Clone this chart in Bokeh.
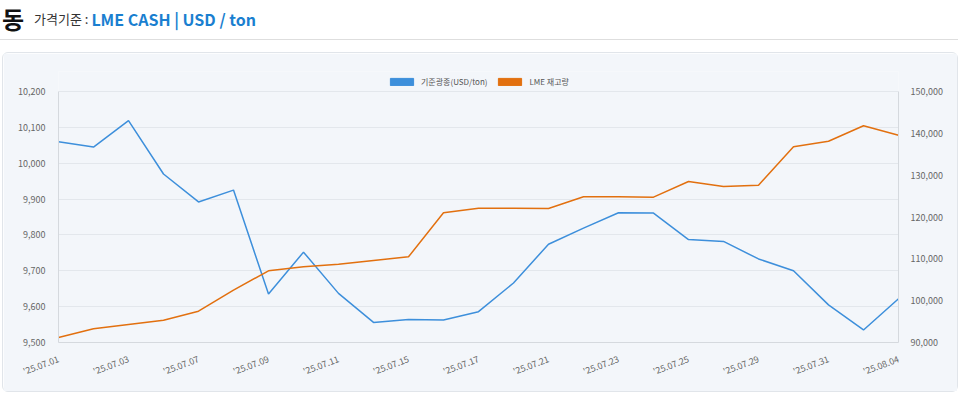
from bokeh.plotting import figure
from bokeh.models import (Range1d, LinearAxis, FixedTicker, NumeralTickFormatter,
                          Legend, LegendItem, ColumnDataSource, Div)
from bokeh.layouts import column
from bokeh.embed import file_html
from bokeh.resources import INLINE

dates = ["'25.07.01", "'25.07.02", "'25.07.03", "'25.07.04", "'25.07.07", "'25.07.08",
         "'25.07.09", "'25.07.10", "'25.07.11", "'25.07.14", "'25.07.15", "'25.07.16",
         "'25.07.17", "'25.07.18", "'25.07.21", "'25.07.22", "'25.07.23", "'25.07.24",
         "'25.07.25", "'25.07.28", "'25.07.29", "'25.07.30", "'25.07.31", "'25.08.01",
         "'25.08.04"]
price = [10060, 10045, 10119, 9970, 9892, 9925, 9635, 9752, 9637, 9556, 9564, 9563,
         9586, 9666, 9774, 9819, 9862, 9861, 9787, 9782, 9733, 9700, 9605, 9535, 9622]
stock = [91200, 93270, 94300, 95330, 97480, 102500, 107140, 108100, 108720, 109600,
         110480, 121000, 122100, 122100, 122030, 124830, 124830, 124740, 128490, 127290,
         127600, 136780, 138120, 141800, 139560]
price_ticks = [9500, 9600, 9700, 9800, 9900, 10000, 10100, 10200]
stock_ticks = [90000, 100000, 110000, 120000, 130000, 140000, 150000]
series_names = ["기준광종(USD/ton)", "LME 재고량"]

BLUE = "#3d8fdb"
ORANGE = "#e2700f"
BG = "#f3f6fa"
FONT = "Noto Sans CJK KR"
NAN = float("nan")

# axis spans; the frame is extended 20px above the top tick to hold the legend
P_LO, P_HI = price_ticks[0], price_ticks[-1]
S_LO, S_HI = stock_ticks[0], stock_ticks[-1]
AXIS_PX, EXTRA_PX = 251, 20
p_end = P_HI + (P_HI - P_LO) * EXTRA_PX / AXIS_PX
s_end = S_HI + (S_HI - S_LO) * EXTRA_PX / AXIS_PX

idx = list(range(len(dates)))
src = ColumnDataSource(dict(x=idx, price=price, stock=stock))

header = Div(
    text=('<div style="width:958px;height:40px;border-bottom:1px solid #dedede;box-sizing:border-box;'
          'padding-left:2px;display:flex;align-items:center;white-space:nowrap;'
          'font-family:\'Noto Sans CJK KR\';">'
          '<span style="font-weight:bold;font-size:24px;color:#111;">동</span>'
          '<span style="margin-left:10px;font-size:13px;color:#333;">가격기준 :&nbsp;</span>'
          '<span style="font-size:16px;font-weight:bold;color:#1a7fd0;">LME CASH | USD / ton</span>'
          '</div>'),
    width=958, height=52, margin=0)

p = figure(width=956, height=340, output_backend="svg", toolbar_location=None,
           x_range=Range1d(0, len(dates) - 1), y_range=Range1d(P_LO, p_end),
           background_fill_color=BG, border_fill_color=BG,
           min_border_left=55, min_border_right=61, min_border_top=18, min_border_bottom=51,
           outline_line_color=None, margin=(0, 0, 0, 2),
           styles={"border": "1px solid #e1e5ea", "border-radius": "6px"})

p.extra_y_ranges = {"stock": Range1d(S_LO, s_end)}

r1 = p.line("x", "price", source=src, line_color=BLUE, line_width=1.5)
r2 = p.line("x", "stock", source=src, line_color=ORANGE, line_width=1.5, y_range_name="stock")

# legend swatches (NaN geometry, used only for legend glyphs)
sw = ColumnDataSource(dict(left=[NAN], right=[NAN], top=[NAN], bottom=[NAN]))
b1 = p.quad(left="left", right="right", top="top", bottom="bottom", source=sw,
            fill_color=BLUE, line_color=BLUE)
b2 = p.quad(left="left", right="right", top="top", bottom="bottom", source=sw,
            fill_color=ORANGE, line_color=ORANGE)

legend = Legend(items=[LegendItem(label=series_names[0], renderers=[b1]),
                       LegendItem(label=series_names[1], renderers=[b2])],
                orientation="horizontal", location=(329, 255),
                glyph_width=29, glyph_height=9, label_height=9,
                label_text_font=FONT, label_text_font_size="8px", label_text_color="#555",
                label_standoff=5, spacing=8, padding=2, margin=0,
                background_fill_alpha=0, border_line_color=None)
p.add_layout(legend, "center")

# x axis
xa = p.xaxis[0]
xa.ticker = FixedTicker(ticks=idx[::2])
xa.major_label_overrides = {i: dates[i] for i in idx[::2]}
xa.major_label_orientation = 0.36
xa.major_label_text_font = FONT
xa.major_label_text_font_size = "9px"
xa.major_label_text_color = "#666"
xa.axis_line_color = "#d5d9de"
xa.major_tick_line_color = None
xa.minor_tick_line_color = None
xa.major_label_standoff = 10

# left y axis
ya = p.yaxis[0]
ya.ticker = FixedTicker(ticks=price_ticks)
ya.bounds = (P_LO, P_HI)
ya.formatter = NumeralTickFormatter(format="0,0")
ya.major_label_text_font = FONT
ya.major_label_text_font_size = "9px"
ya.major_label_text_color = "#666"
ya.axis_line_color = "#d5d9de"
ya.major_tick_line_color = None
ya.minor_tick_line_color = None
ya.major_label_standoff = 7

# right y axis
ra = LinearAxis(y_range_name="stock", ticker=FixedTicker(ticks=stock_ticks),
                formatter=NumeralTickFormatter(format="0,0"), bounds=(S_LO, S_HI))
ra.major_label_text_font = FONT
ra.major_label_text_font_size = "9px"
ra.major_label_text_color = "#666"
ra.axis_line_color = "#d5d9de"
ra.major_tick_line_color = None
ra.minor_tick_line_color = None
ra.major_label_standoff = 6
p.add_layout(ra, "right")

p.xgrid.grid_line_color = None
p.ygrid.grid_line_color = "#e3e7ec"
p.ygrid.ticker = FixedTicker(ticks=price_ticks)

layout = column(header, p, spacing=0, margin=0)
open("out.html", "w").write(file_html(layout, INLINE))
